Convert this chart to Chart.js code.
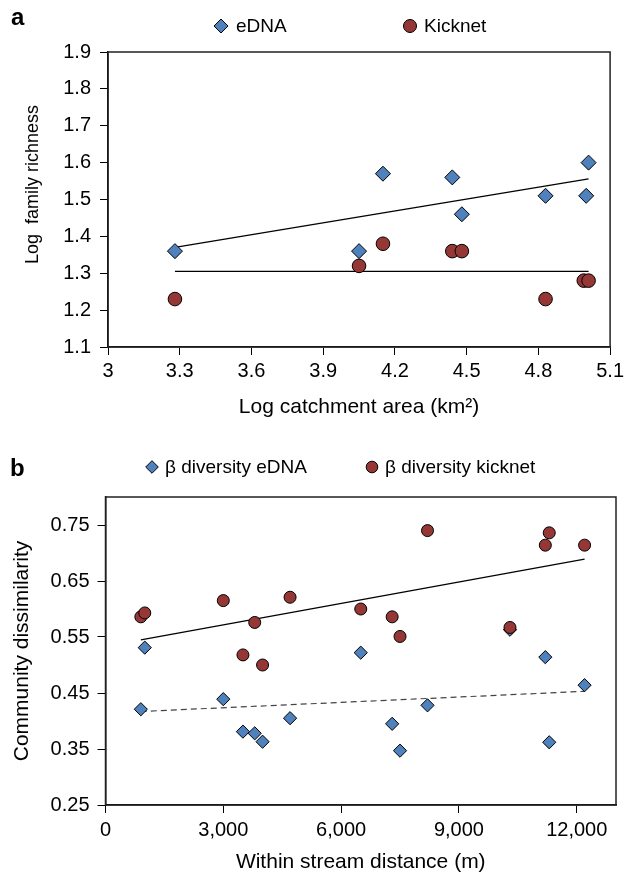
<!DOCTYPE html>
<html lang="en">
  <head>
    <meta charset="utf-8" />
    <script src="https://cdn.jsdelivr.net/npm/chart.js"></script>
    <style>
      body {
        margin: 0;
        background: #fff;
      }
      .panel {
        position: absolute;
        left: 0;
      }
    </style>
    <title>Family richness and beta diversity</title>
  </head>

  <body>
    <canvas class="panel" id="chartA" width="628" height="430" style="top: 0px"></canvas>
    <canvas class="panel" id="chartB" width="628" height="447" style="top: 430px"></canvas>

    <script>
      // panel a: log catchment area vs log family richness
      const catchmentEdna = [3.28, 4.05, 4.15, 4.44, 4.48, 4.83, 5.0, 5.01];
      const richnessEdna = [1.36, 1.36, 1.57, 1.56, 1.46, 1.51, 1.51, 1.6];
      const catchmentKick = [3.28, 4.05, 4.15, 4.44, 4.48, 4.83, 4.99, 5.01];
      const richnessKick = [1.23, 1.32, 1.38, 1.36, 1.36, 1.23, 1.28, 1.28];
      const trendCatchment = [3.28, 5.01];
      const trendRichEdna = [1.37, 1.556];
      const trendRichKick = [1.305, 1.305];
      const xTicksA = [3, 3.3, 3.6, 3.9, 4.2, 4.5, 4.8, 5.1];
      const yTicksA = [1.1, 1.2, 1.3, 1.4, 1.5, 1.6, 1.7, 1.8, 1.9];

      // panel b: within stream distance vs community dissimilarity
      const distance = [900, 1000, 3000, 3500, 3800, 4000, 4700, 6500, 7300, 7500, 8200, 10300, 11200, 11300, 12200];
      const dissimEdna = [0.421, 0.531, 0.439, 0.381, 0.378, 0.363, 0.405, 0.522, 0.395, 0.347, 0.428, 0.563, 0.514, 0.362, 0.464];
      const dissimKick = [0.586, 0.593, 0.615, 0.518, 0.576, 0.5, 0.621, 0.6, 0.586, 0.551, 0.74, 0.567, 0.714, 0.736, 0.714];
      const trendDistance = [900, 12200];
      const trendDissimEdna = [0.417, 0.453];
      const trendDissimKick = [0.545, 0.689];
      const xTicksB = [0, 3000, 6000, 9000, 12000];
      const yTicksB = [0.25, 0.35, 0.45, 0.55, 0.65, 0.75];

      const FONT = "'Liberation Sans', Arial, Helvetica, sans-serif";
      const BLUE = "#4f81bd";
      const RED = "#953735";

      Chart.defaults.font.family = FONT;
      Chart.defaults.font.size = 20;
      Chart.defaults.color = "#000";

      function toPoints(xs, ys) {
        return xs.map((x, i) => ({ x: x, y: ys[i] }));
      }

      // frame round the plot area, legend and panel letter
      const framePlugin = {
        id: "frame",
        afterDraw(chart, args, opts) {
          const ctx = chart.ctx;
          const a = chart.chartArea;
          ctx.save();
          ctx.strokeStyle = "#222";
          ctx.lineWidth = 1.5;
          ctx.strokeRect(a.left, a.top, a.right - a.left, a.bottom - a.top);

          ctx.font = "bold 24px " + FONT;
          ctx.textBaseline = "alphabetic";
          ctx.fillStyle = "#000";
          ctx.fillText(opts.letter.text, opts.letter.x, opts.letter.y);

          ctx.font = "19px " + FONT;
          ctx.textBaseline = "middle";
          opts.items.forEach((item) => {
            const ds = chart.data.datasets[item.dataset];
            ctx.fillStyle = ds.backgroundColor;
            ctx.strokeStyle = "#000";
            ctx.lineWidth = 1;
            Chart.helpers.drawPoint(
              ctx,
              { pointStyle: ds.pointStyle, radius: item.r, borderWidth: 1, rotation: 0 },
              item.x,
              item.y
            );
            ctx.fillStyle = "#000";
            ctx.fillText(ds.label, item.tx, item.y + 1);
          });
          ctx.restore();
        },
      };

      function axis(min, max, ticks, fmt, title, titleSize, extra) {
        return Object.assign(
          {
            type: "linear",
            min: min,
            max: max,
            afterBuildTicks: (s) => {
              s.ticks = ticks.map((v) => ({ value: v }));
            },
            ticks: {
              autoSkip: false,
              maxRotation: 0,
              color: "#000",
              callback: fmt,
            },
            grid: {
              drawOnChartArea: false,
              drawTicks: true,
              tickLength: 8,
              color: "#000",
              tickColor: "#000",
            },
            border: { display: true, color: "#000", width: 1.5 },
            title: { display: true, text: title, color: "#000", font: { size: titleSize } },
          },
          extra
        );
      }

      function draw(id, cfg) {
        return new Chart(document.getElementById(id), {
          type: "scatter",
          plugins: [framePlugin],
          data: { datasets: cfg.datasets },
          options: {
            responsive: false,
            animation: false,
            layout: { padding: cfg.padding },
            plugins: {
              legend: { display: false },
              tooltip: { enabled: false },
              frame: cfg.frame,
            },
            scales: cfg.scales,
          },
        });
      }

      function markers(label, xs, ys, style, color, r, order) {
        return {
          label: label,
          data: toPoints(xs, ys),
          pointStyle: style,
          backgroundColor: color,
          borderColor: "#000",
          pointBorderWidth: 1,
          pointRadius: r,
          showLine: false,
          order: order,
        };
      }

      function trend(xs, ys, color, dash, order) {
        return {
          label: "",
          data: toPoints(xs, ys),
          showLine: true,
          borderColor: color,
          borderWidth: 1.2,
          borderDash: dash,
          pointRadius: 0,
          fill: false,
          order: order,
        };
      }

      // panel a
      draw("chartA", {
        padding: { top: 52, right: 16, left: 0, bottom: 0 },
        datasets: [
          markers("eDNA", catchmentEdna, richnessEdna, "rectRot", BLUE, 7.5, 0),
          markers("Kicknet", catchmentKick, richnessKick, "circle", RED, 6.8, 1),
          trend(trendCatchment, trendRichEdna, "#000", [], 2),
          trend(trendCatchment, trendRichKick, "#000", [], 2),
        ],
        frame: {
          letter: { text: "a", x: 11, y: 25 },
          items: [
            { dataset: 0, r: 7, x: 221, y: 26, tx: 236 },
            { dataset: 1, r: 6.5, x: 410, y: 26, tx: 424 },
          ],
        },
        scales: {
          x: axis(3, 5.1, xTicksA, (v) => String(v), "Log catchment area (km²)", 21, {
            afterFit: (s) => {
              s.height = 83;
            },
          }),
          // leading spaces lift the title the way the original sits above centre
          y: axis(1.1, 1.9, yTicksA, (v) => v.toFixed(1), "      Log  family richness", 18, {
            afterFit: (s) => {
              s.width = 108;
            },
          }),
        },
      });

      // panel b
      draw("chartB", {
        padding: { top: 67, right: 12, left: 0, bottom: 0 },
        datasets: [
          markers("β diversity eDNA", distance, dissimEdna, "rectRot", BLUE, 6.6, 1),
          markers("β diversity kicknet", distance, dissimKick, "circle", RED, 6, 0),
          trend(trendDistance, trendDissimEdna, "#444", [6, 4], 2),
          trend(trendDistance, trendDissimKick, "#000", [], 2),
        ],
        frame: {
          letter: { text: "b", x: 10, y: 46 },
          items: [
            { dataset: 0, r: 6.3, x: 152, y: 37, tx: 165 },
            { dataset: 1, r: 5.8, x: 372, y: 37, tx: 385 },
          ],
        },
        scales: {
          x: axis(0, 13000, xTicksB, (v) => v.toLocaleString("en-US"), "Within stream distance (m)", 21, {
            afterFit: (s) => {
              s.height = 72;
            },
          }),
          y: axis(0.25, 0.8, yTicksB, (v) => v.toFixed(2), "Community dissimilarity", 21, {
            afterFit: (s) => {
              s.width = 105.5;
            },
          }),
        },
      });

      // fine-tune tick and title spacing
      const a = Chart.getChart("chartA");
      a.options.scales.x.ticks.padding = 4;
      a.options.scales.x.title.padding = { top: 0, bottom: 10 };
      a.options.scales.y.ticks.padding = 9;
      a.options.scales.y.title.padding = { top: 22, bottom: 0 };
      a.update();
      const b = Chart.getChart("chartB");
      b.options.scales.x.ticks.padding = 5;
      b.options.scales.x.title.padding = { top: 0, bottom: 2 };
      b.options.scales.y.ticks.padding = 8;
      b.options.scales.y.title.padding = { top: 10, bottom: 0 };
      b.update();
    </script>
  </body>
</html>
